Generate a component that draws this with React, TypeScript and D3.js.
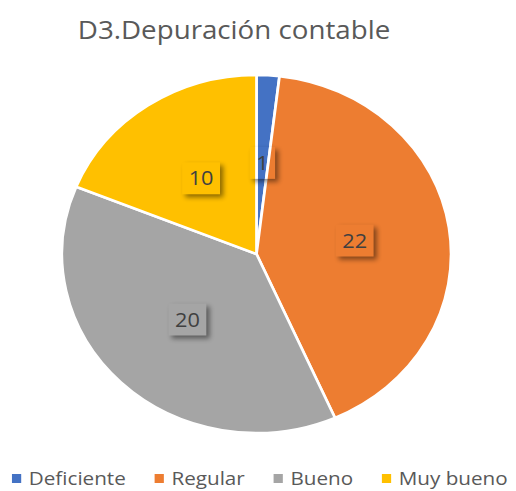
import { useEffect, useRef } from "react";
import * as d3 from "d3";

// chart data
const categories = ["Deficiente", "Regular", "Bueno", "Muy bueno"];
const values = [1, 22, 20, 10];
const colors = ["#4472C4", "#ED7D31", "#A5A5A5", "#FFC000"];
const title = "D3.Depuración contable";

const WIDTH = 516;
const HEIGHT = 491;
// the original picture is a bit wider than tall
const STRETCH = 1.087;

export default function App() {
    const svgRef = useRef<SVGSVGElement | null>(null);

    useEffect(() => {
        const svg = d3.select(svgRef.current);
        svg.selectAll("*").remove();

        const defs = svg.append("defs");
        // soft blur used for the label box shadows
        const filter = defs.append("filter")
            .attr("id", "label-blur")
            .attr("x", "-50%").attr("y", "-50%")
            .attr("width", "200%").attr("height", "200%");
        filter.append("feGaussianBlur").attr("stdDeviation", 2.5);

        const root = svg.append("g")
            .attr("transform", `scale(${STRETCH},1)`);

        // title
        root.append("text")
            .attr("x", 234 / STRETCH)
            .attr("y", 39)
            .attr("text-anchor", "middle")
            .attr("font-family", "'Open Sans', sans-serif")
            .attr("font-size", 25.5)
            .attr("fill", "#595959")
            .text(title);

        // pie
        const radius = 179;
        const cx = 256.5 / STRETCH;
        const cy = 254;

        const pie = d3.pie<number>().sort(null).value(d => d);
        const arcs = pie(values);
        const arcGen = d3.arc<d3.PieArcDatum<number>>()
            .innerRadius(0)
            .outerRadius(radius);
        const labelArc = d3.arc<d3.PieArcDatum<number>>()
            .innerRadius(radius * 0.51)
            .outerRadius(radius * 0.51);

        const pieGroup = root.append("g")
            .attr("transform", `translate(${cx},${cy})`);

        pieGroup.selectAll("path")
            .data(arcs)
            .join("path")
            .attr("d", arcGen)
            .attr("fill", (d, i) => colors[i])
            .attr("stroke", "#fff")
            .attr("stroke-width", 2.5)
            .attr("stroke-linejoin", "round");

        // data labels: see-through box with a shadow falling outside it
        const labels = pieGroup.selectAll("g.label")
            .data(arcs)
            .join("g")
            .attr("class", "label")
            .attr("transform", d => {
                const [x, y] = labelArc.centroid(d);
                return `translate(${x},${y})`;
            });

        labels.append("text")
            .attr("text-anchor", "middle")
            .attr("dy", "0.35em")
            .attr("font-family", "'Open Sans', sans-serif")
            .attr("font-size", 20)
            .attr("fill", "#404040")
            .text(d => String(d.data));

        labels.each(function (d, i) {
            const g = d3.select(this);
            const t = g.select<SVGTextElement>("text");
            const w = t.node()!.getComputedTextLength() + 12;
            const h = 32;

            const maskId = `label-mask-${i}`;
            const mask = defs.append("mask")
                .attr("id", maskId)
                .attr("maskUnits", "userSpaceOnUse")
                .attr("x", -100).attr("y", -100)
                .attr("width", 200).attr("height", 200);
            mask.append("rect")
                .attr("x", -100).attr("y", -100)
                .attr("width", 200).attr("height", 200)
                .attr("fill", "#fff");
            mask.append("rect")
                .attr("x", -w / 2).attr("y", -h / 2)
                .attr("width", w).attr("height", h)
                .attr("fill", "#000");

            g.insert("g", "text")
                .attr("mask", `url(#${maskId})`)
                .append("rect")
                .attr("x", -w / 2 + 3)
                .attr("y", -h / 2 + 3)
                .attr("width", w)
                .attr("height", h)
                .attr("fill", "#000")
                .attr("opacity", 0.45)
                .attr("filter", "url(#label-blur)");
        });

        // legend along the bottom
        const legend = root.append("g")
            .attr("transform", `translate(${11},${0})`);
        let x = 0;
        categories.forEach((name, i) => {
            legend.append("rect")
                .attr("x", x)
                .attr("y", 474)
                .attr("width", 8.5)
                .attr("height", 9)
                .attr("fill", colors[i]);
            const t = legend.append("text")
                .attr("x", x + 15.5)
                .attr("y", 485)
                .attr("font-family", "'Open Sans', sans-serif")
                .attr("font-size", 19)
                .attr("fill", "#595959")
                .text(name);
            x += 15.5 + t.node()!.getComputedTextLength() + 26.5;
        });
    }, []);

    return (
        <div style={{ position: "fixed", left: 0, top: 0 }}>
            <svg ref={svgRef} width={WIDTH} height={HEIGHT} style={{ display: "block", background: "#fff" }} />
        </div>
    );
}
